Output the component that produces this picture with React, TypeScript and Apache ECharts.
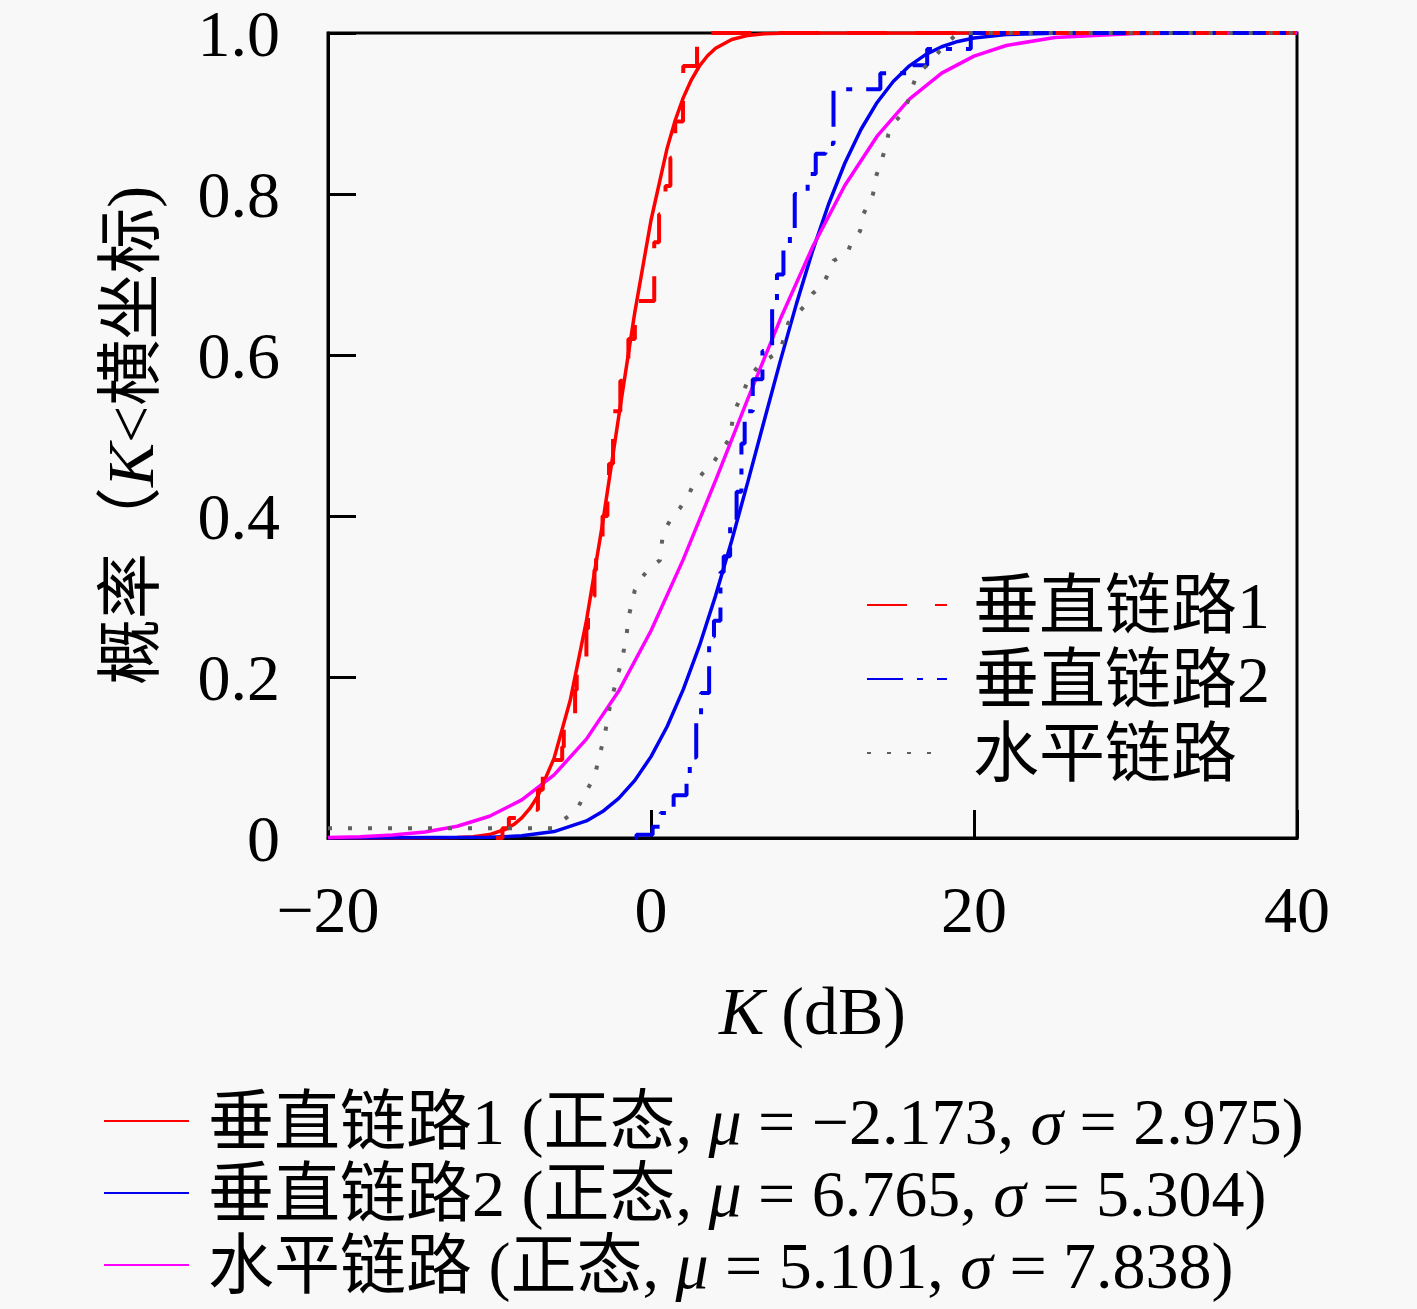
import { useEffect, useRef } from 'react';
import * as echarts from 'echarts';

const FONT = "'Liberation Serif', 'Noto Sans CJK SC', serif";

// empirical CDFs, [K (dB), probability] at each jump
const empVertical1 = [
  [-9.6, 0], [-9.2, 0.012], [-8.8, 0.025], [-7.9, 0.035], [-7.0, 0.06], [-6.7, 0.097],
  [-5.5, 0.113], [-5.4, 0.155], [-4.7, 0.184], [-4.6, 0.225], [-4.0, 0.26], [-3.9, 0.3],
  [-3.5, 0.333], [-3.4, 0.373], [-3.0, 0.4], [-2.7, 0.44], [-2.6, 0.465], [-2.35, 0.53],
  [-1.9, 0.568], [-1.5, 0.58], [-1.4, 0.62], [-1.0, 0.64], [-0.87, 0.667], [0.2, 0.74],
  [0.5, 0.775], [0.9, 0.81], [1.2, 0.845], [1.5, 0.89], [1.98, 0.924], [2.0, 0.959],
  [2.85, 1.0], [40, 1.0]
];

const empVertical2 = [
  [-1.0, 0], [-0.9, 0.004], [0.1, 0.014], [0.6, 0.031], [1.4, 0.053], [2.2, 0.072],
  [2.4, 0.1], [2.8, 0.146], [3.1, 0.18], [3.6, 0.25], [3.9, 0.27], [4.3, 0.33],
  [4.5, 0.35], [4.9, 0.39], [5.3, 0.43], [5.6, 0.49], [5.8, 0.53], [6.3, 0.57],
  [6.9, 0.605], [7.5, 0.66], [7.8, 0.7], [8.2, 0.733], [8.6, 0.754], [8.9, 0.8],
  [9.7, 0.825], [10.2, 0.85], [10.8, 0.862], [11.3, 0.93], [14.2, 0.95], [16.2, 0.96],
  [17.1, 0.98], [19.8, 1.0], [40, 1.0]
];

const empHorizontal = [
  [-20, 0.012], [-6.1, 0.012], [-4.6, 0.035], [-3.9, 0.062], [-3.5, 0.076], [-3.3, 0.093],
  [-2.85, 0.13], [-2.55, 0.163], [-2.1, 0.2], [-1.8, 0.22], [-1.5, 0.254], [-1.4, 0.274],
  [-1.2, 0.29], [-1.0, 0.308], [-0.55, 0.324], [-0.05, 0.336], [0.55, 0.345], [0.75, 0.38],
  [1.3, 0.398], [1.8, 0.41], [2.3, 0.425], [2.6, 0.438], [3.15, 0.452], [3.85, 0.466],
  [4.3, 0.48], [4.9, 0.497], [5.1, 0.527], [6.1, 0.572], [6.75, 0.589], [8.0, 0.605],
  [8.5, 0.64], [9.05, 0.651], [9.65, 0.664], [10.0, 0.676], [10.65, 0.688], [10.95, 0.7],
  [11.3, 0.717], [12.15, 0.726], [12.45, 0.742], [12.95, 0.754], [13.1, 0.773], [13.45, 0.787],
  [13.75, 0.8], [13.9, 0.82], [14.2, 0.837], [14.5, 0.856], [14.7, 0.874], [15.1, 0.89],
  [15.6, 0.9], [16.05, 0.922], [16.2, 0.934], [16.5, 0.95], [17.1, 0.96], [18.2, 0.985],
  [19.0, 1.0], [40, 1.0]
];

// fitted normal CDFs
const fitVertical1 = [
  [-20, 0], [-14, 0.00004], [-12, 0.0005], [-11, 0.0015], [-10, 0.0043], [-9, 0.0109],
  [-8.5, 0.0167], [-8, 0.0251], [-7.5, 0.0367], [-7, 0.0523], [-6, 0.0992], [-5, 0.171],
  [-4, 0.2696], [-3, 0.3905], [-2, 0.5232], [-1, 0.6533], [0, 0.7674], [1, 0.857],
  [1.5, 0.8916], [2, 0.9197], [2.5, 0.9419], [3, 0.959], [3.5, 0.9717], [4, 0.981],
  [5, 0.992], [6, 0.997], [7, 0.999], [8, 0.9997], [10, 1], [40, 1]
];

const fitVertical2 = [
  [-20, 0], [-10, 0.0008], [-8, 0.0027], [-6, 0.008], [-4, 0.0212], [-3, 0.0328],
  [-2, 0.0492], [-1, 0.0716], [0, 0.1011], [1, 0.1385], [2, 0.1846], [3, 0.2389],
  [4, 0.3011], [5, 0.3696], [6, 0.4427], [7, 0.5177], [8, 0.5921], [9, 0.6632],
  [10, 0.7291], [11, 0.7876], [12, 0.8382], [13, 0.8801], [14, 0.9137], [15, 0.9398],
  [16, 0.9592], [17, 0.9732], [18, 0.9829], [19, 0.9895], [20, 0.9937], [22, 0.998],
  [25, 0.9997], [30, 1], [40, 1]
];

const fitHorizontal = [
  [-20, 0.0007], [-18, 0.0016], [-16, 0.0036], [-14, 0.0074], [-12, 0.0146], [-10, 0.027],
  [-8, 0.0473], [-6, 0.0784], [-4, 0.1228], [-2, 0.1825], [0, 0.2575], [2, 0.3461],
  [4, 0.4443], [6, 0.5457], [8, 0.6443], [10, 0.734], [12, 0.8106], [14, 0.8718],
  [16, 0.9178], [18, 0.9501], [20, 0.9713], [22, 0.9845], [25, 0.9944], [30, 0.9993],
  [35, 0.9999], [40, 1]
];

const empNames = ['垂直链路1', '垂直链路2', '水平链路'];
const fitNames = [
  '垂直链路1 (正态, μ = −2.173, σ = 2.975)',
  '垂直链路2 (正态, μ = 6.765, σ = 5.304)',
  '水平链路 (正态, μ = 5.101, σ = 7.838)'
];

const xTicks = { min: -20, max: 40, interval: 20 };
const yTicks = { min: 0, max: 1, interval: 0.2 };

const richText = (size: number, lh: number, gap = 20) => ({
  t: { fontSize: size, fontFamily: FONT, color: '#000', lineHeight: lh },
  i: { fontSize: size, fontFamily: FONT, fontStyle: 'italic', color: '#000', lineHeight: lh },
  sp: { width: gap, lineHeight: lh }
});

const italicize = (s: string) =>
  s
    .split(/([μσ])/)
    .filter((p) => p !== '')
    .map((p) => (p === 'μ' || p === 'σ' ? `{i|${p}}` : `{t|${p}}`))
    .join('');

const App = () => {
  const chartRef = useRef<HTMLDivElement>(null);

  useEffect(() => {
    if (!chartRef.current) return;
    const chart = echarts.init(chartRef.current, null, { renderer: 'svg' });

    const line = (name: string, data: number[][], color: string, type: any, width: number, step?: any) => ({
      name,
      type: 'line',
      data,
      step: step || false,
      symbol: 'none',
      lineStyle: { color, type, width },
      itemStyle: { color },
      silent: true
    });

    const axisCommon = {
      type: 'value',
      axisLine: { show: true, onZero: false, lineStyle: { color: '#000', width: 3 } },
      axisTick: { inside: true, length: 28, lineStyle: { color: '#000', width: 3 } },
      splitLine: { show: false }
    };

    const option = {
      animation: false,
      backgroundColor: '#f8f8f8',
      textStyle: { fontFamily: FONT },
      grid: {
        left: 328,
        right: 120,
        top: 32,
        bottom: 471,
        show: true,
        borderColor: '#000',
        borderWidth: 3,
        backgroundColor: 'transparent'
      },
      xAxis: {
        ...axisCommon,
        ...xTicks,
        name: '{i|K}{t| (dB)}',
        nameLocation: 'middle',
        nameGap: 138,
        nameTextStyle: { rich: richText(68, 70) },
        axisLabel: {
          fontSize: 66,
          fontFamily: FONT,
          color: '#000',
          margin: 46,
          lineHeight: 50,
          formatter: (v: number) => String(v).replace('-', '−')
        }
      },
      yAxis: {
        ...axisCommon,
        ...yTicks,
        name: '{c|概率（}{i|K}{c|<横坐标)}',
        nameLocation: 'middle',
        nameGap: 163,
        nameTextStyle: {
          rich: {
            ...richText(66, 70),
            c: { fontSize: 66, fontFamily: FONT, color: '#000', lineHeight: 70 }
          }
        },
        axisLabel: {
          fontSize: 66,
          fontFamily: FONT,
          color: '#000',
          margin: 48,
          lineHeight: 50,
          formatter: (v: number) => (v === 0 ? '0' : v.toFixed(1))
        }
      },
      legend: [
        {
          data: empNames,
          orient: 'vertical',
          left: 866,
          top: 572,
          padding: 0,
          itemWidth: 80,
          itemHeight: 14,
          itemGap: 8,
          selectedMode: false,
          itemStyle: { opacity: 0 },
          formatter: (n: string) => `{sp| }{t|${n}}`,
          textStyle: { rich: richText(66, 64, 21) }
        },
        {
          data: fitNames,
          orient: 'vertical',
          left: 103,
          top: 1088,
          padding: 0,
          itemWidth: 85,
          itemHeight: 14,
          itemGap: 6,
          selectedMode: false,
          itemStyle: { opacity: 0 },
          formatter: (n: string) => `{sp| }${italicize(n)}`,
          textStyle: { rich: richText(66, 64, 14) }
        }
      ],
      series: [
        line(fitNames[0], fitVertical1, '#ff0000', 'solid', 3.5),
        line(fitNames[1], fitVertical2, '#0000ee', 'solid', 3.5),
        line(fitNames[2], fitHorizontal, '#ff00ff', 'solid', 3.5),
        line(empNames[0], empVertical1, '#ff0000', [40, 28], 4, 'end'),
        line(empNames[1], empVertical2, '#0000ee', [36, 14, 6, 14], 4, 'end'),
        line(empNames[2], empHorizontal, '#606060', [4, 16], 4)
      ]
    };

    chart.setOption(option);
    return () => chart.dispose();
  }, []);

  return (
    <div
      ref={chartRef}
      style={{ position: 'fixed', left: 0, top: 0, width: 1417, height: 1309 }}
    />
  );
};

export default App;
